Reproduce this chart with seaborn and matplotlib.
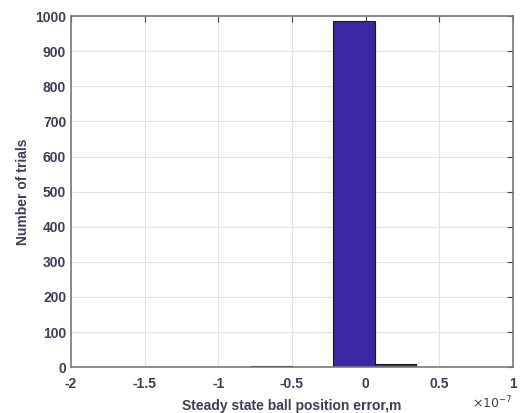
import numpy as np
import pandas as pd
import matplotlib
matplotlib.use("Agg")
import matplotlib.pyplot as plt
import seaborn as sns

# histogram, x in units of 1e-7 m
bin_edges = [-1.9, -1.62, -1.34, -1.06, -0.78, -0.5, -0.22, 0.06, 0.34, 0.62, 0.9]
bin_counts = [1, 0, 0, 0, 2, 0, 987, 8, 1, 1]
x_ticks = [-2, -1.5, -1, -0.5, 0, 0.5, 1]
x_tick_labels = ["-2", "-1.5", "-1", "-0.5", "0", "0.5", "1"]
y_ticks = list(range(0, 1001, 100))

centers = [(a + b) / 2 for a, b in zip(bin_edges[:-1], bin_edges[1:])]
df = pd.DataFrame({"error": centers, "count": bin_counts})

sns.set_theme(style="whitegrid")
plt.rcParams["font.family"] = ["Liberation Sans", "DejaVu Sans"]
TXT = "#463a58"

fig = plt.figure(figsize=(5.24, 4.13), dpi=100)
ax = fig.add_axes([0.1355, 0.111, 0.8435, 0.85])

sns.histplot(data=df, x="error", weights="count", bins=bin_edges, ax=ax,
             color="#3b27a4", alpha=1.0, edgecolor="#1a1a1a", linewidth=0.8)

ax.set_xlim(-2, 1)
ax.set_ylim(0, 1000)
ax.set_xticks(x_ticks)
ax.set_xticklabels(x_tick_labels)
ax.set_yticks(y_ticks)

ax.grid(True, color="#e3e3e3", linewidth=0.8)
ax.set_axisbelow(True)
for s in ax.spines.values():
    s.set_visible(True)
    s.set_color("#7a7a7a")
    s.set_linewidth(1.2)

ax.tick_params(axis="both", direction="in", length=4, width=0.8, color="#444444",
               top=True, right=True, labelsize=10, labelcolor=TXT)
ax.tick_params(axis="x", pad=7)
for lab in ax.get_xticklabels() + ax.get_yticklabels():
    lab.set_fontweight("bold")

ax.set_xlabel("Steady state ball position error,m", fontsize=10, color=TXT,
              fontweight="bold", labelpad=6)
ax.set_ylabel("Number of trials", fontsize=10, color=TXT, fontweight="bold", labelpad=4)
ax.text(1.0, -0.118, r"$\times10^{-7}$", transform=ax.transAxes, ha="right", va="baseline",
        fontsize=9, color=TXT)

fig.savefig("out.png", dpi=100)
